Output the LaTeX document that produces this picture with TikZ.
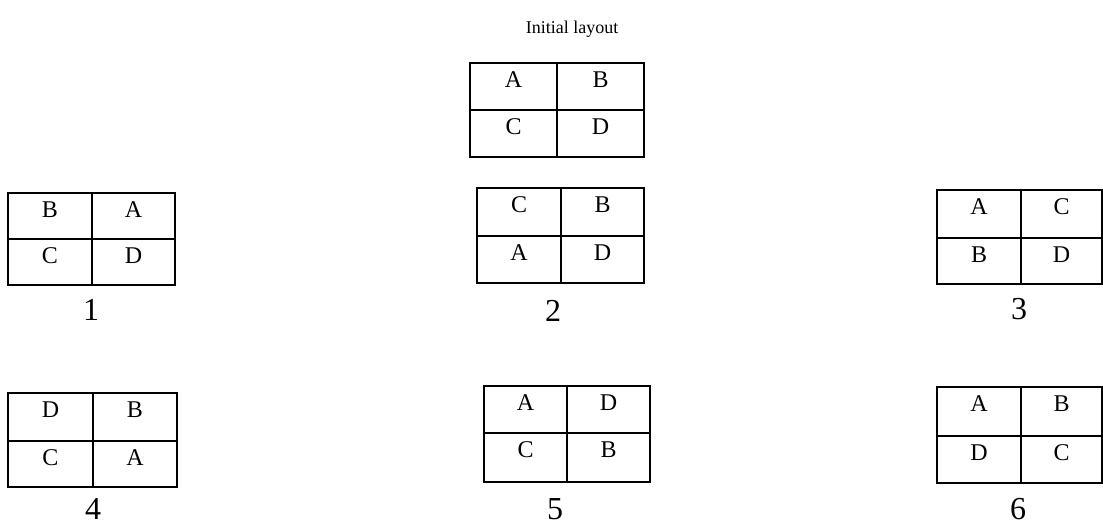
\documentclass[tikz,border=0pt]{standalone}
\usepackage{fontspec}
\setmainfont{Liberation Serif}
\newcommand\pickfirst[2]{#1}
\newcommand\picksecond[2]{#2}
% 2x2 layout grid: name, x0, y0, x1, y1, split x, split y, top letters, bottom letters
\newcommand\quadbox[9]{%
  \draw[gridline] (#2,#3) rectangle (#4,#5) (#6,#3) -- (#6,#5) (#2,#7) -- (#4,#7);
  \node[cell] (#1-tl) at ({(#2+#6)/2},{#3+24}) {\pickfirst#8};
  \node[cell] (#1-tr) at ({(#6+#4)/2},{#3+24}) {\picksecond#8};
  \node[cell] (#1-bl) at ({(#2+#6)/2},{#7+24}) {\pickfirst#9};
  \node[cell] (#1-br) at ({(#6+#4)/2},{#7+24}) {\picksecond#9};
}
\begin{document}
\begin{tikzpicture}[x=1pt,y=-1pt,
  gridline/.style={line width=2.6pt},
  cell/.style={anchor=base,inner sep=0pt,font=\fontsize{24}{26}\selectfont},
  numlabel/.style={anchor=base,inner sep=0pt,font=\fontsize{32}{34}\selectfont},
  title/.style={anchor=base,inner sep=0pt,font=\fontsize{18}{20}\selectfont}]
\useasboundingbox[clip] (0,0) rectangle (1103,525);
\fill[white] (0,0) rectangle (1103,525);

\node[title] (title) at (572,33) {Initial layout};
\quadbox{init}{470}{63}{644}{157}{557}{110}{AB}{CD}

\quadbox{q1}{8}{193}{175}{285}{92}{239}{BA}{CD}
\node[numlabel] (n1) at (91,320) {1};
\quadbox{q2}{477}{188}{644}{283}{561}{236}{CB}{AD}
\node[numlabel] (n2) at (553,321) {2};
\quadbox{q3}{937}{190}{1102}{284}{1021}{238}{AC}{BD}
\node[numlabel] (n3) at (1019,319) {3};

\quadbox{q4}{8}{393}{177}{487}{93}{441}{DB}{CA}
\node[numlabel] (n4) at (93,519) {4};
\quadbox{q5}{484}{386}{650}{482}{567}{433}{AD}{CB}
\node[numlabel] (n5) at (555,519) {5};
\quadbox{q6}{937}{387}{1102}{483}{1021}{436}{AB}{DC}
\node[numlabel] (n6) at (1018,519) {6};
\end{tikzpicture}
\end{document}
